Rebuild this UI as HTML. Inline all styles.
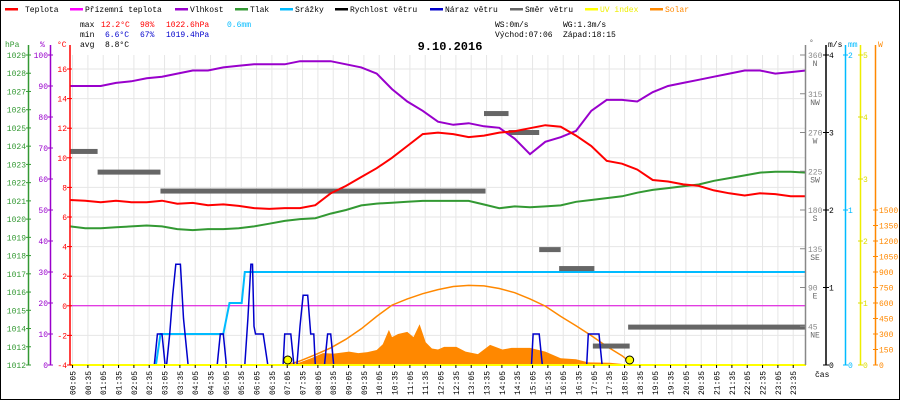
<!DOCTYPE html>
<html><head><meta charset="utf-8"><style>
html,body{margin:0;padding:0;background:#fff;}
svg{display:block;font-family:"Liberation Mono",monospace;font-size:8px;}
</style></head><body>
<svg id="c" width="900" height="400" viewBox="0 0 900 400" xmlns="http://www.w3.org/2000/svg">
<rect x="0.5" y="0.5" width="899" height="399" fill="#fff" stroke="#000"/>
<g id="legend">
<g><rect x="5" y="8" width="13" height="2.5" fill="#f00"/><text x="25" y="12">Teplota</text></g>
<g><rect x="70" y="8" width="13" height="2.5" fill="#f0f"/><text x="85" y="12">Přízemní teplota</text></g>
<g><rect x="175" y="8" width="13" height="2.5" fill="#90c"/><text x="190" y="12">Vlhkost</text></g>
<g><rect x="235" y="8" width="13" height="2.5" fill="#393"/><text x="250" y="12">Tlak</text></g>
<g><rect x="280" y="8" width="13" height="2.5" fill="#0bf"/><text x="295" y="12">Srážky</text></g>
<g><rect x="335" y="8" width="13" height="2.5" fill="#000"/><text x="350" y="12">Rychlost větru</text></g>
<g><rect x="430" y="8" width="13" height="2.5" fill="#00c"/><text x="445" y="12">Náraz větru</text></g>
<g><rect x="510" y="8" width="13" height="2.5" fill="#666"/><text x="525" y="12">Směr větru</text></g>
<g><rect x="585" y="8" width="13" height="2.5" fill="#ff0"/><text x="600" y="12" fill="#ee0">UV index</text></g>
<g><rect x="650" y="8" width="13" height="2.5" fill="#f80"/><text x="665" y="12" fill="#f80">Solar</text></g>
</g>
<g>
<text x="80" y="27">max</text><text x="101" y="27" fill="#f00">12.2°C</text><text x="140" y="27" fill="#f00">98%</text><text x="166" y="27" fill="#f00">1022.6hPa</text><text x="227" y="27" fill="#0bf">0.6mm</text>
<text x="80" y="37">min</text><text x="105" y="37" fill="#00c">6.6°C</text><text x="140" y="37" fill="#00c">67%</text><text x="166" y="37" fill="#00c">1019.4hPa</text>
<text x="80" y="47">avg</text><text x="105" y="47">8.8°C</text>
<text x="495" y="27">WS:0m/s</text><text x="563" y="27">WG:1.3m/s</text>
<text x="495" y="37">Východ:07:06</text><text x="563" y="37">Západ:18:15</text>
</g>
<text x="450" y="50" text-anchor="middle" font-weight="bold" font-size="12">9.10.2016</text>
<g>
<text x="5" y="47" fill="#393">hPa</text><text x="40" y="47" fill="#90c">%</text><text x="57" y="47" fill="#f00">°C</text>
<text x="809" y="45" fill="#666">°</text><text x="828" y="47">m/s</text><text x="848" y="47" fill="#0bf">mm</text><text x="878" y="47" fill="#f80">W</text>
<text x="815" y="377">čas</text>
</g>
<g id="grid"></g>
<g id="plot"></g>
<g id="axes"></g>
</svg>
<script>
const hours=[0,0.5,1,1.5,2,2.5,3,3.5,4,4.5,5,5.5,6,6.5,7,7.5,8,8.5,9,9.5,10,10.5,11,11.5,12,12.5,13,13.5,14,14.5,15,15.5,16,16.5,17,17.5,18,18.5,19,19.5,20,20.5,21,21.5,22,22.5,23,23.5,24];
const tempVals=[7.15,7.1,7.0,7.1,7.0,7.0,7.1,6.9,6.95,6.8,6.85,6.75,6.6,6.55,6.6,6.6,6.8,7.6,8.1,8.7,9.3,10.0,10.8,11.6,11.7,11.6,11.4,11.5,11.7,11.8,12.0,12.2,12.1,11.5,10.8,9.8,9.6,9.2,8.5,8.4,8.2,8.1,7.8,7.6,7.45,7.6,7.55,7.4,7.4];
const humVals=[90,90,90,91,91.5,92.5,93,94,95,95,96,96.5,97,97,97,98,98,98,97,96,94,89,85,82,78.5,77.5,78,77,76.5,73,68,72,73.5,75.5,82,85.5,85.5,85,88,90,91,92,93,94,95,95,94,94.5,95];
const pressVals=[1019.6,1019.5,1019.5,1019.55,1019.6,1019.65,1019.6,1019.45,1019.4,1019.45,1019.45,1019.5,1019.6,1019.75,1019.9,1020.0,1020.05,1020.3,1020.5,1020.75,1020.85,1020.9,1020.95,1021.0,1021.0,1021.0,1021.0,1020.8,1020.6,1020.7,1020.65,1020.7,1020.75,1020.95,1021.05,1021.15,1021.25,1021.45,1021.6,1021.7,1021.8,1021.9,1022.1,1022.25,1022.4,1022.55,1022.6,1022.6,1022.55];
const groundTempVals=[0,0];
const groundTempHours=[0,24];
const rainHours=[2.8,2.95,5.0,5.2,5.6,5.7,24];
const rainVals=[0,0.2,0.2,0.4,0.4,0.6,0.6];
const gustHours=[0,2.75,2.85,3.0,3.1,3.15,3.25,3.35,3.45,3.6,3.7,3.85,4.8,4.9,5.0,5.1,5.7,5.8,5.9,5.95,6.0,6.05,6.3,6.45,6.95,7.0,7.2,7.3,7.4,7.5,7.6,7.75,7.85,7.95,8.0,8.3,8.4,8.5,8.6,15.05,15.1,15.3,15.4,16.85,16.9,17.25,17.35,24];
const gustVals=[0,0,0.4,0.4,0,0,0.4,0.9,1.3,1.3,0.6,0,0,0.4,0.4,0,0,0.6,1.3,1.3,0.5,0.4,0.4,0,0,0.4,0.4,0,0,0.5,0.9,0.9,0.4,0.4,0,0,0.4,0.4,0,0,0.4,0.4,0,0,0.4,0.4,0,0];
const dirStart=[0,0.9,2.95,13.5,14.3,15.3,15.95,17.05,18.2];
const dirEnd=[0.9,2.95,13.55,14.3,15.3,16.0,17.1,18.25,24];
const dirVals=[248,224,202,292,270,134,112,22,44];
const solarHours=[7.2,7.5,7.9,8.25,8.6,9.1,9.4,9.7,10.0,10.2,10.4,10.5,10.7,11.0,11.2,11.4,11.6,11.8,12.0,12.2,12.6,12.9,13.3,13.7,14.1,14.4,15.0,15.5,16.0,16.5,16.9,17.6,18.2,18.3];
const solarVals=[0,25,70,115,110,130,115,125,145,200,340,270,300,320,270,395,220,160,150,175,175,130,105,195,150,165,165,130,65,55,25,22,5,0];
const solarMaxHours=[7.1,7.5,8,8.5,9,9.5,10,10.5,11,11.5,12,12.5,13,13.5,14,14.5,15,15.5,16,16.5,17,17.5,18,18.3];
const solarMaxVals=[0,40,100,165,250,350,470,580,640,690,730,760,770,765,740,700,640,570,470,380,285,180,90,20];
const uvHours=[0,24];
const uvVals=[0,0];
const sunEvents=[7.1,18.25];
const timeLabels=[];for(let h=0;h<24;h++){const hh=String(h).padStart(2,'0');timeLabels.push(hh+':05',hh+':35');}
const hpaTicks=[1012,1013,1014,1015,1016,1017,1018,1019,1020,1021,1022,1023,1024,1025,1026,1027,1028,1029];
const humTicks=[0,10,20,30,40,50,60,70,80,90,100];
const tempTicks=[-4,-2,0,2,4,6,8,10,12,14,16];
const dirTicks=[45,90,135,180,225,270,315,360];
const dirNames=['NE','E','SE','S','SW','W','NW','N'];
const msTicks=[0,1,2,3,4];
const mmTicks=[0,1,2];
const uvTicks=[0,1,2,3,4,5];
const wTicks=[0,150,300,450,600,750,900,1050,1200,1350,1500];

const X0=70,X1=806,YB=365,YT=55;
const X=h=>X0+h*(X1-X0)/24;
const yT=t=>YB-(t+4)*14.8;
const yH=p=>YB-p*3.1;
const yP=v=>YB-(v-1012)*(310/17);
const yMm=v=>YB-v*155;
const yW=v=>YB-v*155/1500;
const yMs=v=>YB-v*77.5;
const yUV=v=>YB-v*62;
const yDeg=d=>YB-d*310/360;
const NS='http://www.w3.org/2000/svg';
function mk(tag,attrs,parent){const e=document.createElementNS(NS,tag);for(const k in attrs)e.setAttribute(k,attrs[k]);parent.appendChild(e);return e;}
const grid=document.getElementById('grid'),plot=document.getElementById('plot'),axes=document.getElementById('axes');

for(let i=0;i<timeLabels.length;i++){
  const x=X(i*0.5+5/60);
  const l=mk('line',{x1:x,x2:x,y1:YT,y2:YB,stroke:'#e6e6e6'},grid);
  
  
  const tk=mk('line',{x1:x,x2:x,y1:YB,y2:YB+3,stroke:'#000'},axes);
  
  
  const t=mk('text',{x:0,y:0,transform:`translate(${x+3},395) rotate(-90)`},axes);
  t.textContent=timeLabels[i];
  
  
}
tempTicks.forEach(v=>{const y=yT(v);
  const l=mk('line',{x1:X0,x2:X1,y1:y,y2:y,stroke:'#e6e6e6'},grid);
  
  
});
function poly(hs,vs,fy,attrs,name){
  const pts=hs.map((h,i)=>X(h).toFixed(1)+','+fy(vs[i]).toFixed(1)).join(' ');
  const p=mk('polyline',Object.assign({points:pts,fill:'none'},attrs),plot);
  
  
  return p;
}
// solar fill
{
  const pts=[X(solarHours[0])+','+YB].concat(solarHours.map((h,i)=>X(h).toFixed(1)+','+yW(solarVals[i]).toFixed(1))).concat([X(solarHours[solarHours.length-1])+','+YB]).join(' ');
  const p=mk('polygon',{points:pts,fill:'#f80'},plot);
  
  
}
poly(groundTempHours,groundTempVals,yT,{stroke:'#d0d','stroke-width':1},'ground-temp-line');
poly(solarMaxHours,solarMaxVals,yW,{stroke:'#f80','stroke-width':1.5},'solar-max-line');
poly(rainHours,rainVals,yMm,{stroke:'#0bf','stroke-width':2},'rain-line');
dirVals.forEach((d,i)=>{const y=yDeg(d);
  const r=mk('rect',{x:X(dirStart[i]),y:y-2.5,width:X(dirEnd[i])-X(dirStart[i]),height:5,fill:'#666'},plot);
  
  
});
poly(pressVals.map((_,i)=>hours[i]),pressVals,yP,{stroke:'#393','stroke-width':2},'pressure-line');
poly(hours,humVals,yH,{stroke:'#90c','stroke-width':2},'humidity-line');
poly(hours,tempVals,yT,{stroke:'#f00','stroke-width':2},'temperature-line');
poly(gustHours,gustVals,yMs,{stroke:'#00c','stroke-width':1.5},'gust-line');
{const l=mk('line',{x1:X0,x2:X1,y1:YB,y2:YB,stroke:'#000','stroke-width':2},plot);
 
 }
poly(uvHours,uvVals,yUV,{stroke:'#ff0','stroke-width':2},'uv-line');
sunEvents.forEach(h=>{
  const c=mk('circle',{cx:X(h),cy:YB-5,r:4,fill:'#ff0',stroke:'#000','stroke-width':1},plot);
  
  
});
// axes
function vaxis(x,col,name){const l=mk('line',{x1:x,x2:x,y1:YT-10,y2:YB,stroke:col,'stroke-width':1.5},axes);
  
  }
vaxis(28.5,'#393','hpa-axis');vaxis(50.5,'#90c','humidity-axis');vaxis(70,'#f00','temp-axis');
vaxis(805.5,'#888','direction-axis');vaxis(826,'#000','wind-axis');vaxis(845.5,'#0bf','rain-axis');vaxis(860.5,'#ee0','uv-axis');vaxis(875.5,'#f80','solar-axis');
function ticks(vals,fy,xl,anchor,tx1,tx2,col,name,labels){
  vals.forEach((v,i)=>{const y=fy(v);
    const l=mk('line',{x1:tx1,x2:tx2,y1:y,y2:y,stroke:col},axes);
    
    
    const t=mk('text',{x:xl,y:y+3,'text-anchor':anchor,fill:col},axes);
    t.textContent=labels?labels[i]:String(v);
    
    
  });
}
ticks(hpaTicks,yP,26,'end',26,31,'#393','hpa');
ticks(humTicks,yH,48,'end',48,53,'#90c','humidity');
ticks(tempTicks,yT,67,'end',67,72,'#f00','temp');
ticks(dirTicks,yDeg,808,'start',800,806,'#888','direction');
dirTicks.forEach((v,i)=>{const t=mk('text',{x:815,y:yDeg(v)+11,'text-anchor':'middle',fill:'#666'},axes);
  t.textContent=dirNames[i];
  
  });
ticks(msTicks,yMs,829,'start',823,829,'#000','wind');
ticks(mmTicks,yMm,848,'start',843,848,'#0bf','rain');
ticks(uvTicks,yUV,863,'start',858,863,'#dd0','uv');
ticks(wTicks,yW,879,'start',873,878,'#f80','solar');
</script>
</body></html>
